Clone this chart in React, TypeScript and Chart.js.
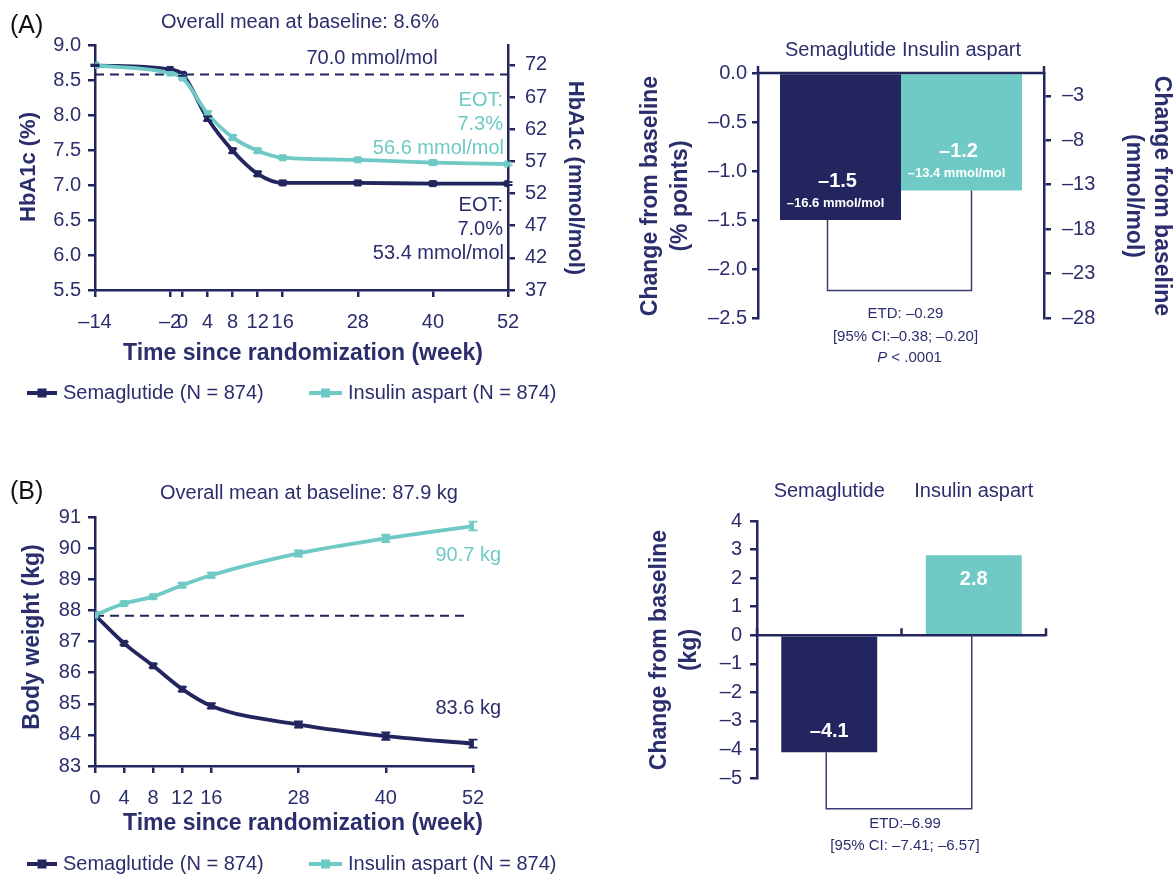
import React, { useEffect, useRef } from 'react';
import { Chart, registerables } from 'chart.js';

Chart.register(...registerables);

// ---------- data ----------
const seriesNames = ['Semaglutide (N = 874)', 'Insulin aspart (N = 874)'];
const barCategories = ['Semaglutide', 'Insulin aspart'];

// Panel A – HbA1c over time
const hba1cWeeks = [-14, -2, 0, 4, 8, 12, 16, 28, 40, 52];
const hba1cSema = [8.71, 8.65, 8.58, 7.95, 7.49, 7.16, 7.03, 7.03, 7.02, 7.02];
const hba1cAspart = [8.71, 8.6, 8.53, 8.02, 7.68, 7.49, 7.39, 7.36, 7.32, 7.3];
const hba1cSemaSE = [0.01, 0.01, 0.02, 0.03, 0.03, 0.03, 0.02, 0.02, 0.02, 0.02];
const hba1cAspartSE = [0.01, 0.01, 0.02, 0.03, 0.03, 0.03, 0.02, 0.02, 0.03, 0.02];
const hba1cBaseline = 8.58;
const hba1cRightTicks = [37, 42, 47, 52, 57, 62, 67, 72];

// Panel A – change from baseline
const hba1cChange = [-1.5, -1.2];
const hba1cChangeLabels = ['–1.5', '–1.2'];
const hba1cChangeMmolLabels = ['–16.6 mmol/mol', '–13.4 mmol/mol'];
const hba1cChangeRightTicks = [-3, -8, -13, -18, -23, -28];
const hba1cEtdLevel = -2.22;
const hba1cEtdText = ['ETD: –0.29', '[95% CI:–0.38; –0.20]', 'P < .0001'];

// Panel B – body weight over time
const weightWeeks = [0, 4, 8, 12, 16, 28, 40, 52];
const weightSema = [87.85, 86.94, 86.22, 85.47, 84.93, 84.33, 83.96, 83.72];
const weightAspart = [87.85, 88.22, 88.44, 88.81, 89.13, 89.83, 90.31, 90.71];
const weightSemaSE = [0, 0.05, 0.06, 0.07, 0.08, 0.1, 0.12, 0.13];
const weightAspartSE = [0, 0.05, 0.06, 0.07, 0.08, 0.1, 0.12, 0.14];
const weightBaseline = 87.83;

// Panel B – change from baseline
const weightChange = [-4.1, 2.8];
const weightChangeLabels = ['–4.1', '2.8'];
const weightEtdLevel = -6.08;
const weightEtdText = ['ETD:–6.99', '[95% CI: –7.41; –6.57]'];

// ---------- style ----------
const W = 1174;
const H = 877;
const FONT = '"Liberation Sans", Arial, Helvetica, sans-serif';
const NAVY = '#22255E';
const TEXT = '#2B2E6C';
const TEAL = '#6FC9C5';
const TICK_SIZE = 20;

const dash = (s: string) => s.replace('-', '–');

type TextItem = {
  t: string; x: number; y: number; size: number; color?: string;
  bold?: boolean; italic?: boolean; align?: CanvasTextAlign; rot?: number;
};

function drawText(ctx: CanvasRenderingContext2D, it: TextItem) {
  ctx.save();
  ctx.font = `${it.italic ? 'italic ' : ''}${it.bold ? 'bold ' : ''}${it.size}px ${FONT}`;
  ctx.fillStyle = it.color || TEXT;
  ctx.textAlign = it.align || 'center';
  ctx.textBaseline = 'middle';
  ctx.translate(it.x, it.y);
  if (it.rot) ctx.rotate(it.rot);
  ctx.fillText(it.t, 0, 0);
  ctx.restore();
}

function drawLegend(ctx: CanvasRenderingContext2D, y: number) {
  const items = [
    { x1: 27, x2: 57, tx: 63, color: NAVY, label: seriesNames[0] },
    { x1: 309, x2: 342, tx: 348, color: TEAL, label: seriesNames[1] },
  ];
  items.forEach((it) => {
    ctx.save();
    ctx.strokeStyle = it.color;
    ctx.lineWidth = 4;
    ctx.beginPath();
    ctx.moveTo(it.x1, y);
    ctx.lineTo(it.x2, y);
    ctx.stroke();
    ctx.fillStyle = it.color;
    const cx = (it.x1 + it.x2) / 2;
    ctx.fillRect(cx - 4.5, y - 4.5, 9, 9);
    ctx.restore();
    drawText(ctx, { t: it.label, x: it.tx, y, size: 20, align: 'left' });
  });
}

const errorBarPlugin = {
  id: 'errorBars',
  afterDatasetsDraw(chart: any) {
    const ctx = chart.ctx as CanvasRenderingContext2D;
    chart.data.datasets.forEach((ds: any, i: number) => {
      if (!ds.errors) return;
      const meta = chart.getDatasetMeta(i);
      const ys = chart.scales[ds.yAxisID || 'y'];
      ctx.save();
      ctx.strokeStyle = ds.borderColor;
      ctx.lineWidth = 1.8;
      meta.data.forEach((pt: any, j: number) => {
        const e = ds.errors[j];
        if (!e) return;
        const v = ds.data[j].y;
        const y1 = ys.getPixelForValue(v - e);
        const y2 = ys.getPixelForValue(v + e);
        ctx.beginPath();
        ctx.moveTo(pt.x, y1); ctx.lineTo(pt.x, y2);
        ctx.moveTo(pt.x - 4.5, y1); ctx.lineTo(pt.x + 4.5, y1);
        ctx.moveTo(pt.x - 4.5, y2); ctx.lineTo(pt.x + 4.5, y2);
        ctx.stroke();
      });
      ctx.restore();
    });
  },
};

// axis helpers
const tickFont = { family: FONT, size: TICK_SIZE };
const axisGrid = { drawOnChartArea: false, drawTicks: true, tickLength: 7, color: NAVY, lineWidth: 2.5 };
const axisBorder = { display: true, color: NAVY, width: 2.5 };

function fixedTicks(values: number[]) {
  return (scale: any) => {
    scale.ticks = values.map((v) => ({ value: v }));
  };
}

function baseOptions(padding: any) {
  return {
    responsive: false,
    maintainAspectRatio: false,
    animation: false,
    devicePixelRatio: 1,
    events: [],
    layout: { padding },
    plugins: { legend: { display: false }, tooltip: { enabled: false } },
  };
}

function lineDataset(label: string, weeks: number[], vals: number[], errs: number[], color: string) {
  return {
    label,
    data: weeks.map((w, i) => ({ x: w, y: vals[i] })),
    borderColor: color,
    backgroundColor: color,
    borderWidth: 3.8,
    pointStyle: 'rect',
    pointRadius: 5,
    pointBorderWidth: 0,
    pointBackgroundColor: color,
    cubicInterpolationMode: 'monotone',
    errors: errs,
    yAxisID: 'y',
  };
}

function baselineDataset(x0: number, x1: number, v: number) {
  return {
    label: 'baseline',
    data: [{ x: x0, y: v }, { x: x1, y: v }],
    borderColor: NAVY,
    borderWidth: 2,
    borderDash: [9, 6],
    pointRadius: 0,
    yAxisID: 'y',
  };
}

// ---------- chart A left ----------
function makeHbA1cLine() {
  return {
    type: 'line',
    data: {
      datasets: [
        lineDataset(seriesNames[1], hba1cWeeks, hba1cAspart, hba1cAspartSE, TEAL),
        lineDataset(seriesNames[0], hba1cWeeks, hba1cSema, hba1cSemaSE, NAVY),
        baselineDataset(hba1cWeeks[0], hba1cWeeks[hba1cWeeks.length - 1], hba1cBaseline),
      ],
    },
    options: {
      ...baseOptions({ left: 0, right: W - 508 - 60, top: 45, bottom: H - 290 - 44 }),
      scales: {
        x: {
          type: 'linear', min: -14, max: 52,
          afterBuildTicks: fixedTicks(hba1cWeeks),
          ticks: { autoSkip: false, maxRotation: 0, padding: 13, color: TEXT, font: tickFont, callback: (v: number) => dash(String(v)) },
          grid: axisGrid, border: axisBorder,
          afterFit: (s: any) => { s.height = 44; },
        },
        y: {
          position: 'left', min: 5.5, max: 9.0,
          ticks: { stepSize: 0.5, padding: 7, color: TEXT, font: tickFont, callback: (v: number) => v.toFixed(1) },
          grid: axisGrid, border: axisBorder,
          afterFit: (s: any) => { s.width = 95; },
        },
        y2: {
          type: 'linear', position: 'right', min: 37, max: 75.1,
          afterBuildTicks: fixedTicks(hba1cRightTicks),
          ticks: { padding: 10, color: TEXT, font: tickFont },
          grid: axisGrid, border: axisBorder,
          afterFit: (s: any) => { s.width = 60; },
        },
      },
    },
    plugins: [
      errorBarPlugin,
      {
        id: 'annotA',
        afterDraw(chart: any) {
          const ctx = chart.ctx;
          const items: TextItem[] = [
            { t: '(A)', x: 10, y: 26, size: 25, align: 'left', color: '#111' },
            { t: 'Overall mean at baseline: 8.6%', x: 300, y: 22, size: 20 },
            { t: '70.0 mmol/mol', x: 372, y: 58, size: 20 },
            { t: 'EOT:', x: 503, y: 100, size: 20, align: 'right', color: TEAL },
            { t: '7.3%', x: 503, y: 124, size: 20, align: 'right', color: TEAL },
            { t: '56.6 mmol/mol', x: 504, y: 148, size: 20, align: 'right', color: TEAL },
            { t: 'EOT:', x: 503, y: 205, size: 20, align: 'right' },
            { t: '7.0%', x: 503, y: 229, size: 20, align: 'right' },
            { t: '53.4 mmol/mol', x: 504, y: 253, size: 20, align: 'right' },
            { t: 'HbA1c (%)', x: 29, y: 167, size: 22, bold: true, rot: -Math.PI / 2 },
            { t: 'HbA1c (mmol/mol)', x: 575, y: 178, size: 22, bold: true, rot: Math.PI / 2 },
            { t: 'Time since randomization (week)', x: 303, y: 354, size: 23, bold: true },
          ];
          items.forEach((it) => drawText(ctx, it));
          drawLegend(ctx, 393);
        },
      },
    ],
  };
}

// ---------- bar helpers ----------
function zeroAxisPlugin(id: string) {
  return {
    id,
    afterDatasetsDraw(chart: any) {
      const ctx = chart.ctx as CanvasRenderingContext2D;
      const { left, right } = chart.chartArea;
      const y0 = chart.scales.y.getPixelForValue(0);
      const n = chart.data.labels.length;
      ctx.save();
      ctx.strokeStyle = NAVY;
      ctx.lineWidth = 2.5;
      ctx.beginPath();
      ctx.moveTo(left, y0);
      ctx.lineTo(right, y0);
      for (let i = 0; i <= n; i++) {
        const x = left + ((right - left) * i) / n;
        ctx.moveTo(x, y0 + 1);
        ctx.lineTo(x, y0 - 7);
      }
      ctx.stroke();
      ctx.restore();
    },
  };
}

function drawBracket(ctx: CanvasRenderingContext2D, x1: number, y1: number, x2: number, y2: number, yb: number) {
  ctx.save();
  ctx.strokeStyle = '#3A3D72';
  ctx.lineWidth = 1.5;
  ctx.beginPath();
  ctx.moveTo(x1, y1);
  ctx.lineTo(x1, yb);
  ctx.lineTo(x2, yb);
  ctx.lineTo(x2, y2);
  ctx.stroke();
  ctx.restore();
}

// ---------- chart A right ----------
function makeHbA1cBar() {
  return {
    type: 'bar',
    data: {
      labels: ['HbA1c'],
      datasets: [
        { label: barCategories[0], data: [hba1cChange[0]], backgroundColor: NAVY, borderWidth: 0 },
        { label: barCategories[1], data: [hba1cChange[1]], backgroundColor: TEAL, borderWidth: 0 },
      ],
    },
    options: {
      ...baseOptions({ left: 758 - 60, right: W - 1044 - 60, top: 73, bottom: H - 318 }),
      datasets: { bar: { categoryPercentage: 0.846, barPercentage: 1 } },
      scales: {
        x: { type: 'category', display: false },
        y: {
          position: 'left', min: -2.5, max: 0,
          ticks: { stepSize: 0.5, padding: 5, color: TEXT, font: tickFont, callback: (v: number) => dash(v.toFixed(1)) },
          grid: { ...axisGrid, tickLength: 6 }, border: axisBorder,
          afterFit: (s: any) => { s.width = 60; },
        },
        y2: {
          type: 'linear', position: 'right', min: -28, max: -0.44,
          afterBuildTicks: fixedTicks(hba1cChangeRightTicks),
          ticks: { padding: 11, color: TEXT, font: tickFont, callback: (v: number) => dash(String(v)) },
          grid: axisGrid, border: axisBorder,
          afterFit: (s: any) => { s.width = 60; },
        },
      },
    },
    plugins: [
      zeroAxisPlugin('zeroA'),
      {
        id: 'annotAbar',
        afterDraw(chart: any) {
          const ctx = chart.ctx as CanvasRenderingContext2D;
          const { left, right, top } = chart.chartArea;
          const ys = chart.scales.y;
          const bars = [0, 1].map((i) => chart.getDatasetMeta(i).data[0]);
          bars.forEach((b: any, i: number) => {
            drawText(ctx, { t: barCategories[i], x: b.x, y: top - 23, size: 20 });
            drawText(ctx, { t: hba1cChangeLabels[i], x: b.x - 3, y: b.y - 39, size: 20, bold: true, color: '#fff' });
            drawText(ctx, { t: hba1cChangeMmolLabels[i], x: b.x - 5, y: b.y - 17, size: 13, bold: true, color: '#fff' });
          });
          const c1 = left + (right - left) / 4 - 2;
          const c2 = left + (3 * (right - left)) / 4 - 1;
          const yb = ys.getPixelForValue(hba1cEtdLevel);
          drawBracket(ctx, c1, ys.getPixelForValue(Math.min(hba1cChange[0], 0)), c2, ys.getPixelForValue(Math.min(hba1cChange[1], 0)), yb);
          const mx = (c1 + c2) / 2 + 6;
          drawText(ctx, { t: hba1cEtdText[0], x: mx, y: yb + 23, size: 15 });
          drawText(ctx, { t: hba1cEtdText[1], x: mx, y: yb + 46, size: 15 });
          // P < .0001 with italic P
          const rest = hba1cEtdText[2].slice(1);
          ctx.save();
          ctx.font = `italic 15px ${FONT}`;
          const wP = ctx.measureText('P').width;
          ctx.font = `15px ${FONT}`;
          const wR = ctx.measureText(rest).width;
          ctx.restore();
          const x0 = mx + 4 - (wP + wR) / 2;
          drawText(ctx, { t: 'P', x: x0, y: yb + 67, size: 15, italic: true, align: 'left' });
          drawText(ctx, { t: rest, x: x0 + wP, y: yb + 67, size: 15, align: 'left' });
          // axis titles
          drawText(ctx, { t: 'Change from baseline', x: 651, y: 196, size: 23, bold: true, rot: -Math.PI / 2 });
          drawText(ctx, { t: '(% points)', x: 681, y: 196, size: 23, bold: true, rot: -Math.PI / 2 });
          drawText(ctx, { t: 'Change from baseline', x: 1161, y: 196, size: 23, bold: true, rot: Math.PI / 2 });
          drawText(ctx, { t: '(mmol/mol)', x: 1133, y: 196, size: 23, bold: true, rot: Math.PI / 2 });
        },
      },
    ],
  };
}

// ---------- chart B left ----------
function makeWeightLine() {
  return {
    type: 'line',
    data: {
      datasets: [
        lineDataset(seriesNames[1], weightWeeks, weightAspart, weightAspartSE, TEAL),
        lineDataset(seriesNames[0], weightWeeks, weightSema, weightSemaSE, NAVY),
        baselineDataset(0, 51.5, weightBaseline),
      ],
    },
    options: {
      ...baseOptions({ left: 0, right: W - 473, top: 517, bottom: H - 766 - 44 }),
      scales: {
        x: {
          type: 'linear', min: 0, max: 52,
          afterBuildTicks: fixedTicks(weightWeeks),
          ticks: { autoSkip: false, maxRotation: 0, padding: 13, color: TEXT, font: tickFont },
          grid: axisGrid, border: axisBorder,
          afterFit: (s: any) => { s.height = 44; },
        },
        y: {
          position: 'left', min: 83, max: 91,
          ticks: { stepSize: 1, padding: 7, color: TEXT, font: tickFont },
          grid: axisGrid, border: axisBorder,
          afterFit: (s: any) => { s.width = 95; },
        },
      },
    },
    plugins: [
      errorBarPlugin,
      {
        id: 'annotB',
        afterDraw(chart: any) {
          const ctx = chart.ctx;
          const items: TextItem[] = [
            { t: '(B)', x: 10, y: 492, size: 25, align: 'left', color: '#111' },
            { t: 'Overall mean at baseline: 87.9 kg', x: 309, y: 493, size: 20 },
            { t: '90.7 kg', x: 501, y: 555, size: 20, align: 'right', color: TEAL },
            { t: '83.6 kg', x: 501, y: 708, size: 20, align: 'right' },
            { t: 'Body weight (kg)', x: 33, y: 637, size: 23, bold: true, rot: -Math.PI / 2 },
            { t: 'Time since randomization (week)', x: 303, y: 824, size: 23, bold: true },
          ];
          items.forEach((it) => drawText(ctx, it));
          drawLegend(ctx, 864);
        },
      },
    ],
  };
}

// ---------- chart B right ----------
function makeWeightBar() {
  return {
    type: 'bar',
    data: {
      labels: barCategories,
      datasets: [
        { label: 'Change from baseline (kg)', data: weightChange, backgroundColor: [NAVY, TEAL], borderWidth: 0 },
      ],
    },
    options: {
      ...baseOptions({ left: 757 - 60, right: W - 1046, top: 521, bottom: H - 778 }),
      datasets: { bar: { categoryPercentage: 1, barPercentage: 0.664 } },
      scales: {
        x: { type: 'category', display: false },
        y: {
          position: 'left', min: -5, max: 4,
          ticks: { stepSize: 1, padding: 8, color: TEXT, font: tickFont, callback: (v: number) => dash(String(v)) },
          grid: axisGrid, border: axisBorder,
          afterFit: (s: any) => { s.width = 60; },
        },
      },
    },
    plugins: [
      zeroAxisPlugin('zeroB'),
      {
        id: 'annotBbar',
        afterDraw(chart: any) {
          const ctx = chart.ctx as CanvasRenderingContext2D;
          const { top } = chart.chartArea;
          const ys = chart.scales.y;
          const bars = chart.getDatasetMeta(0).data;
          bars.forEach((b: any, i: number) => {
            drawText(ctx, { t: barCategories[i], x: b.x, y: top - 30, size: 20 });
            const v = weightChange[i];
            drawText(ctx, { t: weightChangeLabels[i], x: b.x, y: b.y + (v > 0 ? 24 : -21), size: 20, bold: true, color: '#fff' });
          });
          const c1 = bars[0].x - 3;
          const c2 = bars[1].x - 2;
          const yb = ys.getPixelForValue(weightEtdLevel);
          drawBracket(ctx, c1, ys.getPixelForValue(Math.min(weightChange[0], 0)), c2, ys.getPixelForValue(Math.min(weightChange[1], 0)), yb);
          const mx = (c1 + c2) / 2 + 6;
          drawText(ctx, { t: weightEtdText[0], x: mx, y: yb + 15, size: 15 });
          drawText(ctx, { t: weightEtdText[1], x: mx, y: yb + 37, size: 15 });
          drawText(ctx, { t: 'Change from baseline', x: 660, y: 650, size: 23, bold: true, rot: -Math.PI / 2 });
          drawText(ctx, { t: '(kg)', x: 690, y: 650, size: 23, bold: true, rot: -Math.PI / 2 });
        },
      },
    ],
  };
}

function ChartCanvas({ make }: { make: () => any }) {
  const ref = useRef<HTMLCanvasElement>(null);
  useEffect(() => {
    const chart = new Chart(ref.current as HTMLCanvasElement, make());
    return () => chart.destroy();
  }, [make]);
  return (
    <canvas
      ref={ref}
      width={W}
      height={H}
      style={{ position: 'absolute', left: 0, top: 0, width: W, height: H }}
    />
  );
}

export default function App() {
  return (
    <div style={{ position: 'absolute', left: 0, top: 0, width: W, height: H, background: '#fff', overflow: 'hidden' }}>
      <ChartCanvas make={makeHbA1cLine} />
      <ChartCanvas make={makeHbA1cBar} />
      <ChartCanvas make={makeWeightLine} />
      <ChartCanvas make={makeWeightBar} />
    </div>
  );
}
